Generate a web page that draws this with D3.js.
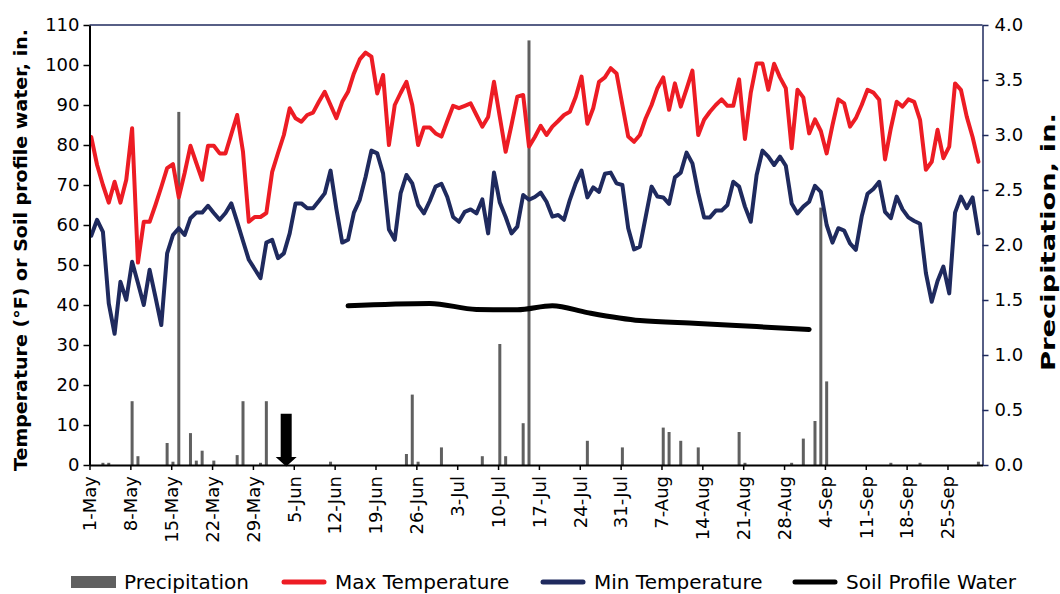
<html>
<head>
<script src="https://d3js.org/d3.v7.min.js"></script>
<style>
body { margin: 0; background: #ffffff; font-family: 'DejaVu Sans', sans-serif; }
.tick text { font-family: 'DejaVu Sans', sans-serif; fill: #000; }
</style>
</head>
<body>

<svg id="chart" width="1060" height="594"></svg>

<script>
// daily series, 1-May (index 0) to 30-Sep (index 152)
var startDate = new Date(2019, 4, 1);

var maxTemp = [
    82, 75, 70, 65.6, 70.8, 65.6, 71.3, 84.2, 50.6, 60.8,
    60.8, 65, 69.5, 74.2, 75.2, 66.9, 73, 79.8, 75.5, 71.3,
    79.8, 79.8, 77.9, 77.9, 82.7, 87.5, 78.3, 60.8, 62, 62,
    63, 73.3, 78, 82.5, 89.2, 86.7, 85.8, 87.5, 88.1, 90.8,
    93.3, 90, 86.7, 90.8, 93.3, 97.9, 101.4, 103.1, 102.1, 92.9,
    97.5, 80, 90, 93, 95.8, 90, 80, 84.4, 84.4, 82.9,
    82.1, 86, 89.8, 89.2, 89.8, 90.4, 87.5, 84.6, 87, 95.8,
    87, 78.3, 85, 92.1, 92.5, 79.6, 82, 84.8, 82.5, 84.6,
    86, 87.5, 88.3, 92, 97.1, 85.3, 89.2, 95.8, 96.9, 99.2,
    97.9, 90, 82.1, 80.8, 82.5, 86.7, 90, 94.2, 96.9, 88.8,
    95.4, 89.6, 94, 98.6, 82.5, 86.3, 88.3, 90, 91.4, 89.8,
    89.8, 96.4, 81.5, 93.1, 100.4, 100.4, 93.8, 100.3, 96.9, 94.2,
    79.2, 93.8, 91.9, 82.9, 86.4, 83.5, 77.9, 85, 91.4, 90.4,
    84.6, 86.7, 90, 93.8, 93.1, 91.3, 76.4, 84.2, 90.8, 89.6,
    91.4, 90.8, 86.3, 73.8, 75.8, 83.8, 76.7, 79.6, 95.4, 93.8,
    87.1, 82, 75.8
];

var minTemp = [
    57.3, 61.3, 58.3, 40.4, 32.8, 45.8, 41.3, 50.8, 45.5, 40,
    48.8, 42, 35, 52.9, 57.5, 59.2, 57.5, 61.7, 63.1, 63.1,
    64.8, 63, 61.3, 63, 65.4, 60.8, 56, 51.3, 49, 46.7,
    55.6, 56.3, 51.7, 52.9, 57.9, 65.4, 65.4, 64.2, 64.2, 66,
    67.9, 73.6, 64, 55.6, 56.3, 63.1, 66.3, 72, 78.6, 77.9,
    72.9, 58.9, 56.3, 67.9, 72.5, 70.4, 65, 62.9, 66, 69.6,
    70.3, 67, 62, 60.8, 63.3, 63.9, 62.9, 66.4, 57.9, 73.1,
    65.6, 62, 57.9, 59.6, 67.5, 66.3, 67, 68.1, 65.8, 62.1,
    62.5, 61.3, 66.3, 70.4, 73.6, 66.9, 69.4, 68.3, 72.8, 73.1,
    70.4, 70, 59.2, 53.9, 54.6, 62.1, 69.6, 67.1, 66.9, 65.3,
    71.9, 73.1, 78.1, 75.4, 68, 61.9, 61.9, 63.6, 63.6, 65,
    70.8, 69.6, 64.6, 60.8, 72.5, 78.6, 77.1, 75, 77.1, 74.8,
    65.4, 62.9, 64.6, 65.8, 69.8, 68.3, 60, 55.6, 59.2, 58.6,
    55.4, 53.8, 62.1, 67.8, 69, 70.8, 63.3, 61.7, 67.1, 63.9,
    61.9, 61, 60.3, 48, 40.8, 46, 49.6, 42.9, 63.1, 67.1,
    64.2, 66.9, 57.9
];

// precipitation, in. (right axis)
var precip = [
    0, 0, 0.02, 0.02, 0, 0, 0, 0.58, 0.08, 0,
    0, 0, 0, 0.20, 0.03, 3.21, 0, 0.29, 0.04, 0.13,
    0, 0.04, 0, 0, 0, 0.09, 0.58, 0, 0, 0.02,
    0.58, 0, 0, 0, 0, 0, 0, 0, 0, 0,
    0, 0.03, 0, 0, 0, 0, 0, 0, 0, 0,
    0, 0, 0, 0, 0.10, 0.64, 0.03, 0, 0, 0,
    0.16, 0, 0, 0, 0, 0, 0, 0.08, 0, 0,
    1.10, 0.08, 0, 0, 0.38, 3.86, 0, 0, 0, 0,
    0, 0, 0, 0, 0, 0.22, 0, 0, 0, 0,
    0, 0.16, 0, 0, 0, 0, 0, 0, 0.34, 0.30,
    0, 0.22, 0, 0, 0.16, 0, 0, 0, 0, 0,
    0, 0.30, 0.02, 0, 0, 0, 0, 0, 0, 0,
    0.02, 0, 0.24, 0, 0.40, 2.34, 0.76, 0, 0, 0,
    0, 0, 0, 0, 0, 0, 0, 0.02, 0, 0,
    0, 0, 0.02, 0, 0, 0, 0, 0, 0, 0,
    0, 0, 0.03
];

// soil profile water readings (day index, inches on left axis)
var soilDay = [44, 58, 66, 73, 79, 85, 94, 104, 114, 123];
var soilWater = [39.8, 40.4, 38.9, 38.8, 39.8, 38.1, 36.1, 35.4, 34.6, 33.9];

// arrow marker (fractional day index, top value on left axis)
var arrowDay = 33.7;
var arrowTop = 12.8;

var tickDays = d3.range(0, 148, 7);
var tempTicks = d3.range(0, 111, 10);
var precipTicks = d3.range(0, 4.01, 0.5);

var legendNames = ["Precipitation", "Max Temperature", "Min Temperature", "Soil Profile Water"];

var red = "#ED1C24";
var navy = "#1F2A5E";
var gray = "#606060";

var svg = d3.select("#chart");

var plotL = 89.5, plotR = 982.5, plotT = 25, plotB = 465;

var x = d3.scaleLinear().domain([0, 153]).range([plotL, plotR]);
var yT = d3.scaleLinear().domain([0, 110]).range([plotB, plotT]);
var yP = d3.scaleLinear().domain([0, 4]).range([plotB, plotT]);

// points sit a little right of the day tick
function xDay(i) { return x(i + 0.3); }

var fmt = d3.timeFormat("%-d-%b");
function dayLabel(d) { return fmt(d3.timeDay.offset(startDate, d)); }

// top border
svg.append("line")
    .attr("x1", plotL).attr("x2", plotR)
    .attr("y1", plotT).attr("y2", plotT)
    .attr("stroke", navy).attr("stroke-width", 1.5);

// precipitation bars
svg.append("g").selectAll("rect")
    .data(precip.map(function (v, i) { return {i: i, v: v}; }).filter(function (d) { return d.v > 0; }))
    .enter().append("rect")
    .attr("x", function (d) { return xDay(d.i) - 1.5; })
    .attr("width", 3)
    .attr("y", function (d) { return yP(d.v); })
    .attr("height", function (d) { return plotB - yP(d.v); })
    .attr("fill", gray);

// temperature lines
var lineT = d3.line()
    .x(function (d, i) { return xDay(i); })
    .y(function (d) { return yT(d); });

svg.append("path")
    .datum(maxTemp)
    .attr("d", lineT)
    .attr("fill", "none")
    .attr("stroke", red)
    .attr("stroke-width", 4)
    .attr("stroke-linejoin", "round")
    .attr("stroke-linecap", "round");

svg.append("path")
    .datum(minTemp)
    .attr("d", lineT)
    .attr("fill", "none")
    .attr("stroke", navy)
    .attr("stroke-width", 4)
    .attr("stroke-linejoin", "round")
    .attr("stroke-linecap", "round");

// soil water line
var lineS = d3.line()
    .curve(d3.curveMonotoneX)
    .x(function (d) { return xDay(d[0]); })
    .y(function (d) { return yT(d[1]); });

svg.append("path")
    .datum(soilDay.map(function (d, i) { return [d, soilWater[i]]; }))
    .attr("d", lineS)
    .attr("fill", "none")
    .attr("stroke", "#000")
    .attr("stroke-width", 5)
    .attr("stroke-linecap", "round");

// arrow
var ax = x(arrowDay);
svg.append("path")
    .attr("d", "M" + (ax - 5.5) + "," + yT(arrowTop) +
        "L" + (ax + 5.5) + "," + yT(arrowTop) +
        "L" + (ax + 5.5) + "," + (plotB - 8) +
        "L" + (ax + 10.5) + "," + (plotB - 8) +
        "L" + ax + "," + (plotB + 1.5) +
        "L" + (ax - 10.5) + "," + (plotB - 8) +
        "L" + (ax - 5.5) + "," + (plotB - 8) + "Z")
    .attr("fill", "#000");

// axes
var leftAxis = svg.append("g")
    .attr("transform", "translate(" + plotL + ",0)")
    .call(d3.axisLeft(yT).tickValues(tempTicks).tickSize(6).tickSizeOuter(0).tickPadding(4));
leftAxis.select(".domain").attr("stroke", "#000").attr("stroke-width", 2);
leftAxis.selectAll(".tick line").attr("stroke", "#000").attr("stroke-width", 1.5);
leftAxis.selectAll("text").style("font-size", "18px");

var rightAxis = svg.append("g")
    .attr("transform", "translate(" + plotR + ",0)")
    .call(d3.axisRight(yP).tickValues(precipTicks).tickFormat(d3.format(".1f"))
        .tickSize(6).tickSizeOuter(0).tickPadding(6));
rightAxis.select(".domain").attr("stroke", navy).attr("stroke-width", 1.5);
rightAxis.selectAll(".tick line").attr("stroke", navy).attr("stroke-width", 1.5);
rightAxis.selectAll("text").style("font-size", "18px");

var bottomAxis = svg.append("g")
    .attr("transform", "translate(0," + plotB + ")")
    .call(d3.axisBottom(x).tickValues(tickDays).tickFormat(dayLabel).tickSize(5).tickSizeOuter(0));
bottomAxis.select(".domain").attr("stroke", "#000").attr("stroke-width", 2);
bottomAxis.selectAll(".tick line").attr("stroke", "#000").attr("stroke-width", 1.5);
bottomAxis.selectAll("text")
    .style("font-size", "18px")
    .attr("transform", "rotate(-90)")
    .attr("text-anchor", "end")
    .attr("x", -11)
    .attr("y", 0)
    .attr("dy", "0.35em");

// axis titles
svg.append("text")
    .attr("transform", "translate(27,250) rotate(-90)")
    .attr("text-anchor", "middle")
    .attr("textLength", 442)
    .attr("lengthAdjust", "spacingAndGlyphs")
    .style("font-size", "18px")
    .style("font-weight", "bold")
    .text("Temperature (°F) or Soil profile water, in.");

svg.append("text")
    .attr("transform", "translate(1055,242) rotate(-90)")
    .attr("text-anchor", "middle")
    .attr("textLength", 258)
    .attr("lengthAdjust", "spacingAndGlyphs")
    .style("font-size", "19px")
    .style("font-weight", "bold")
    .text("Precipitation, in.");

// legend
var legendX = [71, 282, 541, 793];
var legendColors = [gray, red, navy, "#000"];
var legend = svg.append("g").attr("transform", "translate(0,582)");

legendNames.forEach(function (name, i) {
    if (i === 0) {
        legend.append("rect")
            .attr("x", legendX[i]).attr("y", -6)
            .attr("width", 45).attr("height", 12)
            .attr("fill", legendColors[i]);
    } else {
        legend.append("line")
            .attr("x1", legendX[i] + 2).attr("x2", legendX[i] + 42)
            .attr("y1", 0).attr("y2", 0)
            .attr("stroke", legendColors[i])
            .attr("stroke-width", 5)
            .attr("stroke-linecap", "round");
    }
    legend.append("text")
        .attr("x", legendX[i] + 53)
        .attr("y", 0)
        .attr("dy", "0.35em")
        .style("font-size", "20px")
        .text(name);
});
</script>

</body>
</html>
